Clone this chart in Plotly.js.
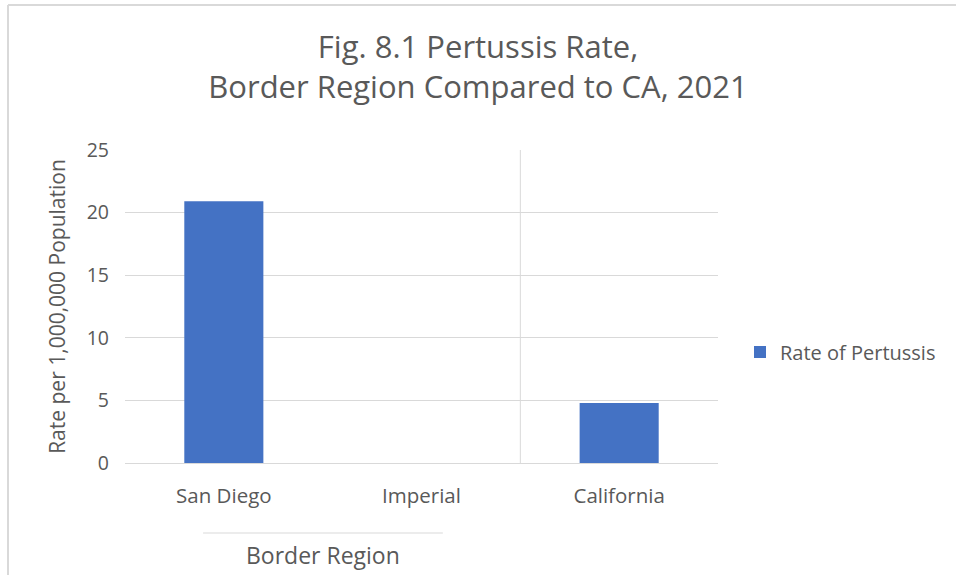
<!DOCTYPE html>
<html>
<head>
<meta charset="utf-8">
<script src="https://cdn.plot.ly/plotly-3.0.1.min.js"></script>
<style>
  html, body { margin: 0; padding: 0; background: #ffffff; }
  #chart { width: 956px; height: 575px; }
</style>
</head>
<body>
<div id="chart"></div>
<script>
// Pertussis rate per 1,000,000 population, 2021
const regions = ["San Diego", "Imperial", "California"];
const rates = [20.9, 0, 4.8];
const seriesName = "Rate of Pertussis";
const yTicks = [0, 5, 10, 15, 20, 25];
const groupLabel = "Border Region";

const W = 956, H = 575;
const M = { l: 125, r: 238, t: 150, b: 112 };
const pw = W - M.l - M.r, ph = H - M.t - M.b;
const px = v => (v - M.l) / pw;          // pixel x -> paper x
const py = v => (H - M.b - v) / ph;      // pixel y -> paper y

const grey = "#595959";
const lineGrey = "#d9d9d9";
const font = "'Open Sans', 'Noto Sans', sans-serif";

const trace = {
  type: "bar",
  x: regions,
  y: rates,
  name: seriesName,
  marker: { color: "#4472c4" },
  width: 0.4,
  showlegend: true,
  hoverinfo: "x+y"
};

const layout = {
  width: W, height: H,
  margin: M,
  paper_bgcolor: "#ffffff",
  plot_bgcolor: "#ffffff",
  font: { family: font, color: grey, size: 20 },
  title: {
    text: "Fig. 8.1 Pertussis Rate,<br>Border Region Compared to CA, 2021",
    font: { family: font, size: 31, color: grey },
    x: 0.5, xref: "container", xanchor: "center",
    y: 1 - 58 / H, yanchor: "middle", yref: "container"
  },
  showlegend: true,
  legend: {
    x: px(740), xanchor: "left",
    y: py(352), yanchor: "middle",
    font: { family: font, size: 20, color: grey },
    bgcolor: "rgba(0,0,0,0)"
  },
  xaxis: {
    type: "category",
    showgrid: false,
    showline: true, linecolor: lineGrey, linewidth: 1,
    ticks: "",
    ticklabelstandoff: 14,
    tickfont: { family: font, size: 20.5, color: grey },
    range: [-0.5, 2.5],
    fixedrange: true
  },
  yaxis: {
    range: [0, 25],
    tickvals: yTicks,
    showgrid: true, gridcolor: lineGrey, gridwidth: 1,
    zeroline: true, zerolinecolor: lineGrey, zerolinewidth: 1,
    showline: false,
    ticks: "",
    ticklabelstandoff: 15,
    tickfont: { family: font, size: 19.5, color: grey },
    title: {
      text: "Rate per 1,000,000 Population",
      font: { family: font, size: 21, color: grey },
      standoff: 15
    },
    fixedrange: true
  },
  shapes: [
    // separator between the border counties and the state
    { type: "line", xref: "x", yref: "paper", x0: 1.5, x1: 1.5, y0: 0, y1: 1,
      line: { color: lineGrey, width: 1 } },
    // bracket line over the group label
    { type: "line", xref: "x", yref: "paper", x0: -0.105, x1: 1.108,
      y0: py(533), y1: py(533), line: { color: lineGrey, width: 1 } },
    // chart frame (left and top edges)
    { type: "line", xref: "paper", yref: "paper", x0: px(8), x1: px(8),
      y0: py(5), y1: py(H + 5), line: { color: lineGrey, width: 2 } },
    { type: "line", xref: "paper", yref: "paper", x0: px(8), x1: px(W + 5),
      y0: py(5), y1: py(5), line: { color: lineGrey, width: 2 } }
  ],
  annotations: [
    { text: groupLabel, xref: "x", yref: "paper", x: 0.5, y: py(555),
      xanchor: "center", yanchor: "middle", showarrow: false,
      font: { family: font, size: 23, color: grey } }
  ]
};

Plotly.newPlot("chart", [trace], layout, { displayModeBar: false, staticPlot: true });
</script>
</body>
</html>
